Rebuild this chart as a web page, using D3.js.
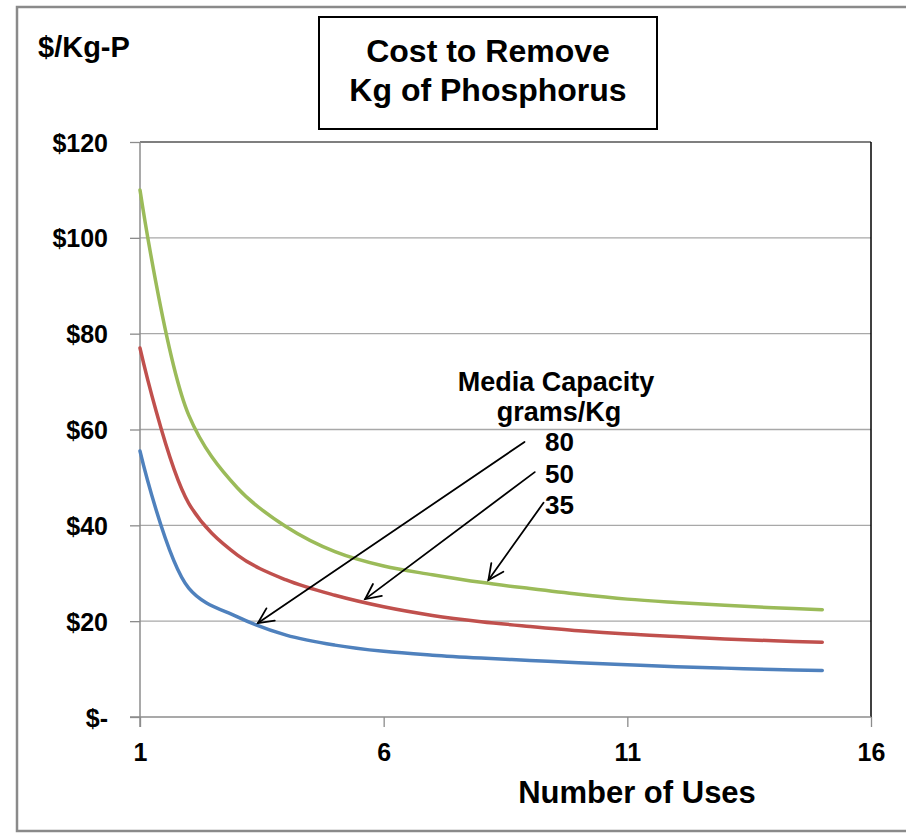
<!DOCTYPE html>
<html>
<head>
<meta charset="utf-8">
<script src="https://cdn.jsdelivr.net/npm/d3@7"></script>
<style>
  html, body { margin: 0; padding: 0; background: #fff; }
  svg { display: block; font-family: "Liberation Sans", Arial, sans-serif; font-weight: bold; }
</style>
</head>
<body>
<svg id="chart" width="906" height="833"></svg>
<script>
// ---- data ----
const uses = [1,2,3,4,5,6,7,8,9,10,11,12,13,14,15];
const cap35 = [110, 63, 47.8, 39.7, 34.5, 31.5, 29.7, 28.1, 26.8, 25.6, 24.6, 23.9, 23.3, 22.8, 22.4];
const cap50 = [77, 44.6, 33.8, 28.6, 25.4, 23.0, 21.2, 19.9, 18.9, 18.0, 17.3, 16.8, 16.3, 15.9, 15.6];
const cap80 = [55.5, 26.9, 20.9, 17.1, 15.0, 13.7, 12.9, 12.3, 11.8, 11.3, 10.9, 10.5, 10.2, 9.9, 9.7];
const seriesNames = ["35", "50", "80"];
const seriesColors = ["#9BBB59", "#C0504D", "#4F81BD"];
const yTicks = [0, 20, 40, 60, 80, 100, 120];
const yTickLabels = ["$-", "$20", "$40", "$60", "$80", "$100", "$120"];
const xTicks = [1, 6, 11, 16];
const titleLines = ["Cost to Remove", "Kg of Phosphorus"];
const yAxisTitle = "$/Kg-P";
const xAxisTitle = "Number of Uses";
const legendTitle = ["Media Capacity", "grams/Kg"];
const legendLabels = ["80", "50", "35"];
// arrows, in data units: [fromUses, fromCost, toUses, toCost]
const arrow80 = [8.89, 57.4, 3.42, 19.6];
const arrow50 = [9.10, 51.1, 5.62, 24.6];
const arrow35 = [9.28, 44.7, 8.15, 28.6];

// ---- layout ----
const svg = d3.select("#chart");
const x = d3.scaleLinear().domain([1, 16]).range([140, 871]);
const y = d3.scaleLinear().domain([0, 120]).range([717, 142]);

// outer frame
svg.append("rect").attr("x", 17).attr("y", 7).attr("width", 906).attr("height", 824)
  .attr("fill", "#fff").attr("stroke", "#8a8a8a").attr("stroke-width", 2.5);

// gridlines
svg.append("g").selectAll("line").data(yTicks.filter(d => d > 0)).join("line")
  .attr("x1", x(1)).attr("x2", x(16))
  .attr("y1", d => y(d)).attr("y2", d => y(d))
  .attr("stroke", d => d === 120 ? "#7f7f7f" : "#a8a8a8")
  .attr("stroke-width", d => d === 120 ? 2 : 1.3);

// right border of plot area
svg.append("line").attr("x1", x(16)).attr("x2", x(16)).attr("y1", y(120)).attr("y2", y(0))
  .attr("stroke", "#000").attr("stroke-width", 1.5);

// y axis
const yAxis = d3.axisLeft(y).tickValues(yTicks).tickSize(10).tickPadding(22)
  .tickFormat((d, i) => yTickLabels[i]);
const gy = svg.append("g").attr("transform", `translate(${x(1)},0)`).call(yAxis);
gy.select(".domain").attr("stroke", "#8c8c8c").attr("stroke-width", 1.5)
  .attr("d", `M0,${y(120)}V${y(0) + 10}`);
gy.selectAll(".tick line").attr("stroke", "#8c8c8c").attr("stroke-width", 1.3);
gy.selectAll(".tick text").attr("font-size", 25).attr("font-weight", "bold")
  .attr("fill", "#000").attr("font-family", "Liberation Sans, Arial, sans-serif")
  .attr("dy", "0.36em");

// x axis
const xAxis = d3.axisBottom(x).tickValues(xTicks).tickSize(10).tickPadding(16)
  .tickFormat(d3.format("d"));
const gx = svg.append("g").attr("transform", `translate(0,${y(0)})`).call(xAxis);
gx.select(".domain").attr("stroke", "#8c8c8c").attr("stroke-width", 1.5)
  .attr("d", `M${x(1) - 10},0H${x(16)}`);
gx.selectAll(".tick line").attr("stroke", "#8c8c8c").attr("stroke-width", 1.3);
gx.selectAll(".tick text").attr("font-size", 25).attr("font-weight", "bold")
  .attr("fill", "#000").attr("font-family", "Liberation Sans, Arial, sans-serif");

// series
const line = d3.line().x(d => x(d[0])).y(d => y(d[1])).curve(d3.curveCatmullRom.alpha(0.5));
[cap35, cap50, cap80].forEach((vals, i) => {
  svg.append("path")
    .datum(uses.map((u, j) => [u, vals[j]]))
    .attr("d", line)
    .attr("fill", "none")
    .attr("stroke", seriesColors[i])
    .attr("stroke-width", 3.5)
    .attr("stroke-linecap", "round")
    .attr("stroke-linejoin", "round");
});

// arrows
function drawArrow(a) {
  const x1 = x(a[0]), y1 = y(a[1]), x2 = x(a[2]), y2 = y(a[3]);
  const ang = Math.atan2(y2 - y1, x2 - x1);
  const L = 17, spread = 0.45;
  const g = svg.append("g").attr("stroke", "#000").attr("stroke-width", 1.8)
    .attr("fill", "none").attr("stroke-linecap", "round");
  g.append("line").attr("x1", x1).attr("y1", y1).attr("x2", x2).attr("y2", y2);
  g.append("path").attr("d",
    `M${x2 - L * Math.cos(ang - spread)},${y2 - L * Math.sin(ang - spread)}` +
    `L${x2},${y2}` +
    `L${x2 - L * Math.cos(ang + spread)},${y2 - L * Math.sin(ang + spread)}`);
}
[arrow80, arrow50, arrow35].forEach(drawArrow);

// legend annotation
svg.append("text").attr("x", 556).attr("y", 391).attr("text-anchor", "middle")
  .attr("font-size", 27).text(legendTitle[0]);
svg.append("text").attr("x", 559).attr("y", 421).attr("text-anchor", "middle")
  .attr("font-size", 27).text(legendTitle[1]);
legendLabels.forEach((t, i) => {
  svg.append("text").attr("x", 545).attr("y", 451 + i * 31.7)
    .attr("font-size", 26).text(t);
});

// y axis title
svg.append("text").attr("x", 38).attr("y", 57).attr("font-size", 29).text(yAxisTitle);

// title box
svg.append("rect").attr("x", 319).attr("y", 17).attr("width", 338).attr("height", 112)
  .attr("fill", "#fff").attr("stroke", "#000").attr("stroke-width", 2);
titleLines.forEach((t, i) => {
  svg.append("text").attr("x", 488).attr("y", 62 + i * 39).attr("text-anchor", "middle")
    .attr("font-size", 32).text(t);
});

// x axis title
svg.append("text").attr("x", 637).attr("y", 803).attr("text-anchor", "middle")
  .attr("font-size", 31).text(xAxisTitle);
</script>
</body>
</html>
